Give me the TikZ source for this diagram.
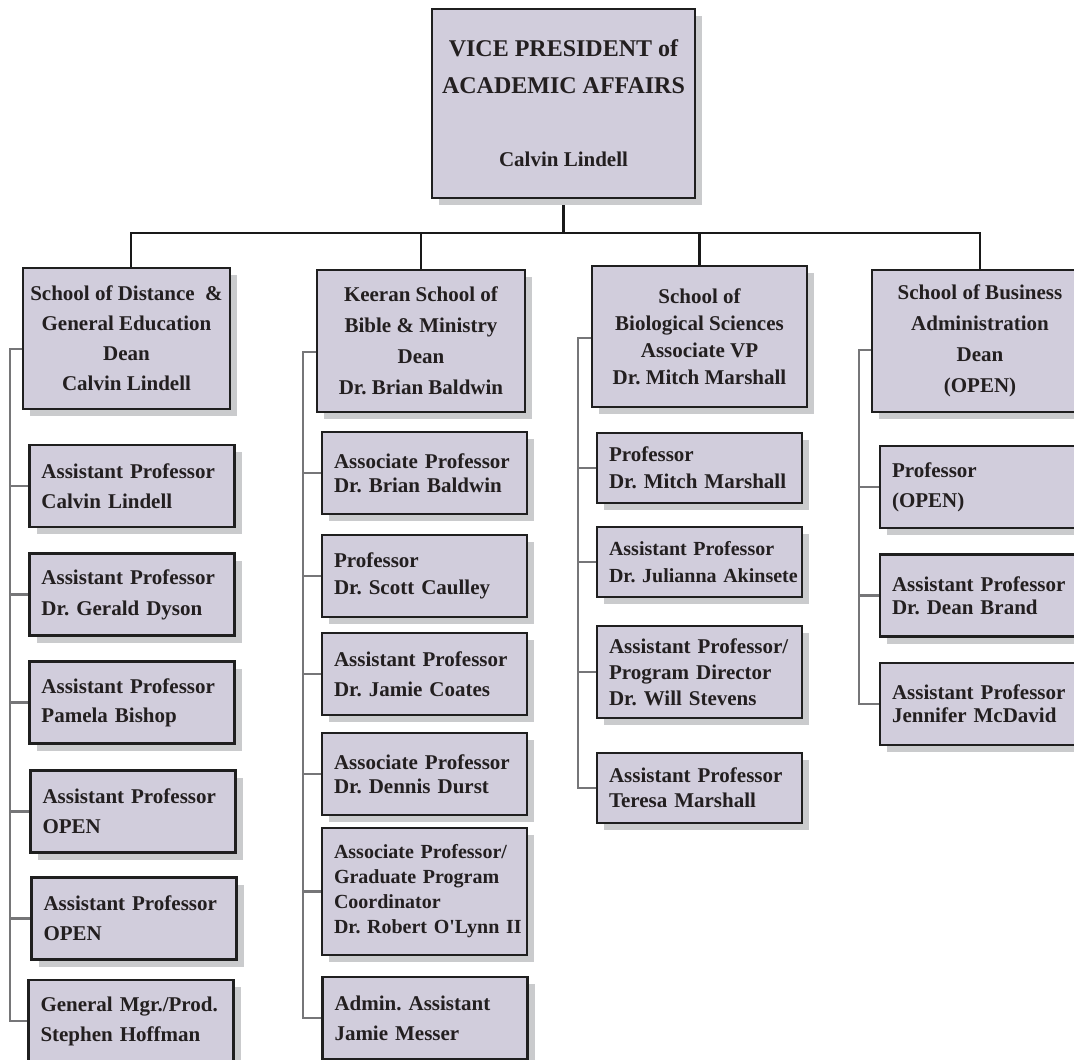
\documentclass[tikz,border=0pt]{standalone}
\usepackage{fontspec}
\setmainfont{Liberation Serif}
\usetikzlibrary{shadows,backgrounds}
\definecolor{boxfill}{RGB}{209,205,220}
\definecolor{shadowgray}{RGB}{202,203,205}
\definecolor{sidegray}{RGB}{118,118,120}
\definecolor{textc}{RGB}{35,31,32}
\frenchspacing
\begin{document}
\begin{tikzpicture}[x=1pt,y=-1pt,
  box/.style={draw=black!88, line width=2.6pt, fill=boxfill, text=textc, inner sep=0pt,
    drop shadow={shadow xshift=7pt, shadow yshift=-7pt, fill=shadowgray, opacity=1}},
  ls/.style={font=\fontsize{21}{#1}\selectfont\bfseries},
  fs/.style 2 args={font=\fontsize{#1}{#2}\selectfont\bfseries},
  vpbox/.style={box, align=center, minimum width=263pt, minimum height=189pt, fs={24}{37}},
  dean/.style={box, align=center, ls=30},
  child/.style={box, align=left, text width=181pt, minimum width=205pt, minimum height=82pt, ls=30},
  conn/.style={draw=black!90, line width=2.6pt},
  side/.style={draw=sidegray, line width=2.6pt}
]
\useasboundingbox (0,0) rectangle (1074,1060);
\clip (0,0) rectangle (1074,1060);

% top
\node[vpbox] (vp) at (563.5,103.5) {VICE PRESIDENT of\\ACADEMIC AFFAIRS\\[36pt]{\fontsize{21}{25}\selectfont Calvin Lindell}};

% deans
\node[dean, minimum width=207pt, minimum height=141pt] (d1) at (126.5,338.5)
  {School of Distance~~\&\\General Education\\Dean\\Calvin Lindell};
\node[dean, ls=31, minimum width=208pt, minimum height=142pt] (d2) at (421,341)
  {Keeran School of\\Bible \& Ministry\\Dean\\Dr. Brian Baldwin};
\node[dean, ls=27, minimum width=215pt, minimum height=141pt] (d3) at (699.5,336.5)
  {School of\\Biological Sciences\\Associate VP\\Dr. Mitch Marshall};
\node[dean, ls=31, minimum width=216pt, minimum height=142pt] (d4) at (980,341)
  {School of Business\\Administration\\Dean\\(OPEN)};

% column 1
\node[child] (c11) at (132,486) {Assistant Professor\\Calvin Lindell};
\node[child, ls=31] (c12) at (132,594.5) {Assistant Professor\\Dr. Gerald Dyson};
\node[child, ls=29] (c13) at (132,702.5) {Assistant Professor\\Pamela Bishop};
\node[child] (c14) at (133,811.5) {Assistant Professor\\OPEN};
\node[child] (c15) at (134,918.5) {Assistant Professor\\OPEN};
\node[child] (c16) at (131,1021) {General Mgr./Prod.\\Stephen Hoffman};

% column 2
\node[child, ls=24] (c21) at (424.5,473) {Associate Professor\\Dr. Brian Baldwin};
\node[child, ls=27] (c22) at (424.5,576) {Professor\\Dr. Scott Caulley};
\node[child] (c23) at (424.5,674) {Assistant Professor\\Dr. Jamie Coates};
\node[child, ls=24] (c24) at (424.5,774) {Associate Professor\\Dr. Dennis Durst};
\node[child, fs={20}{25}, minimum height=127pt] (c25) at (424.5,891.5)
  {Associate Professor/\\Graduate Program\\Coordinator\\\mbox{Dr. Robert O\textquotesingle Lynn II}};
\node[child] (c26) at (425,1018) {Admin. Assistant\\Jamie Messer};

% column 3
\node[child, ls=27, minimum height=70pt] (c31) at (699.5,468) {Professor\\Dr. Mitch Marshall};
\node[child, fs={20}{27}, minimum height=70pt] (c32) at (699.5,562) {Assistant Professor\\\mbox{Dr. Julianna Akinsete}};
\node[child, ls=26, minimum height=92pt] (c33) at (699.5,672) {Assistant Professor/\\Program Director\\Dr. Will Stevens};
\node[child, ls=25, minimum height=70pt] (c34) at (699.5,788) {Assistant Professor\\Teresa Marshall};

% column 4
\node[child] (c41) at (982.5,487) {Professor\\(OPEN)};
\node[child, ls=23] (c42) at (982.5,595.5) {Assistant Professor\\Dr. Dean Brand};
\node[child, ls=23] (c43) at (982.5,704) {Assistant Professor\\Jennifer McDavid};

\begin{pgfonlayer}{background}
  \coordinate (bar1) at (131,233);
  \coordinate (bar4) at (980,233);
  \draw[conn] (vp.south) -- (vp.south |- bar1);
  \draw[conn] (bar1 |- d1.north) -- (bar1) -- (bar4) -- (d4.north);
  \draw[conn] (d2.north) -- (d2.north |- bar1);
  \draw[conn] (d3.north) -- (d3.north |- bar1);

  \coordinate (s1) at (10,349);
  \coordinate (s2) at (303,352);
  \coordinate (s3) at (578,338);
  \coordinate (s4) at (859,350);
  \draw[side] ([yshift=-10.5pt]d1.west) -- (s1) |- (c16.west);
  \draw[side] ([yshift=-11pt]d2.west) -- (s2) |- (c26.west);
  \draw[side] ([yshift=-1.5pt]d3.west) -- (s3) |- (c34.west);
  \draw[side] ([yshift=-9pt]d4.west) -- (s4) |- (c43.west);
  \foreach \n in {c11,c12,c13,c14,c15} \draw[side] (\n.west) -- (\n.west -| s1);
  \foreach \n in {c21,c22,c23,c24,c25} \draw[side] (\n.west) -- (\n.west -| s2);
  \foreach \n in {c31,c32,c33} \draw[side] (\n.west) -- (\n.west -| s3);
  \foreach \n in {c41,c42} \draw[side] (\n.west) -- (\n.west -| s4);
\end{pgfonlayer}
\end{tikzpicture}
\end{document}
